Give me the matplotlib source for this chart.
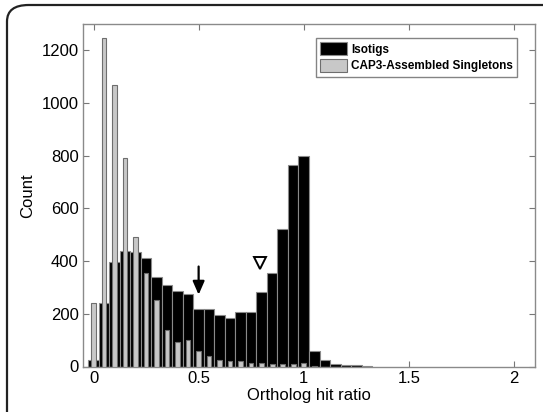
import matplotlib
matplotlib.use('Agg')
import matplotlib.pyplot as plt
import numpy as np
from matplotlib.patches import FancyBboxPatch

plt.rcParams['font.family'] = ['Liberation Sans', 'DejaVu Sans']

# bin centres (ortholog hit ratio), 0.05 wide
bin_centers = np.round(np.arange(0, 1.35, 0.05), 2)

isotigs = [25, 240, 398, 440, 436, 412, 341, 308, 287, 275, 217, 219, 196, 185,
           205, 208, 282, 355, 522, 765, 798, 58, 24, 10, 6, 4, 2]
singletons = [242, 1247, 1067, 793, 492, 355, 252, 139, 92, 100, 58, 40, 25, 21,
              21, 15, 12, 8, 8, 8, 12, 2, 0, 0, 0, 0, 0]

arrow_x, arrow_top, arrow_tip = 0.5, 390, 262
tri_x, tri_y = 0.79, 393

fig = plt.figure(figsize=(5.43, 4.12), dpi=100)
ax = fig.add_axes([83 / 543, 1 - 366.5 / 412, 452 / 543, 342.5 / 412])

# outer rounded frame (cropped on right and bottom)
frame = FancyBboxPatch((7 / 543, -0.1), 1.2, 1 - 5 / 412 + 0.1,
                       boxstyle='round,pad=0,rounding_size=0.04',
                       transform=fig.transFigure, fill=False,
                       edgecolor='#222222', linewidth=1.6, clip_on=False)
fig.patches.append(frame)

ax.bar(bin_centers, isotigs, width=0.05, color='black', edgecolor='#8a8a8a',
       linewidth=0.8, label='Isotigs', zorder=2)
ax.bar(bin_centers, singletons, width=0.022, color='#c8c8c8', edgecolor='#6e6e6e',
       linewidth=0.8, label='CAP3-Assembled Singletons', zorder=3)

ax.annotate('', xy=(arrow_x, arrow_tip), xytext=(arrow_x, arrow_top),
            arrowprops=dict(arrowstyle='-|>,head_length=0.8,head_width=0.35',
                            color='black', lw=1.6), zorder=5)
ax.plot([tri_x], [tri_y], marker='v', markersize=8, markerfacecolor='white',
        markeredgecolor='black', markeredgewidth=1.4, linestyle='none', zorder=5)

ax.set_xlim(-0.05, 2.1)
ax.set_ylim(0, 1300)
ax.set_xticks([0, 0.5, 1, 1.5, 2])
ax.set_xticklabels(['0', '0.5', '1', '1.5', '2'])
ax.set_yticks([0, 200, 400, 600, 800, 1000, 1200])
ax.tick_params(direction='in', length=4, color='#777777', labelsize=12,
               top=True, right=True, pad=3)
for s in ax.spines.values():
    s.set_color('#8a8a8a')
    s.set_linewidth(1.0)

ax.set_xlabel('Ortholog hit ratio', fontsize=12, labelpad=2)
ax.set_ylabel('Count', fontsize=12, labelpad=5)

leg = ax.legend(loc='upper right', bbox_to_anchor=(517 / 543, 1 - 38 / 412),
                bbox_transform=fig.transFigure, frameon=True, fancybox=False,
                prop={'weight': 'bold', 'size': 8.5}, handlelength=2.3,
                handleheight=1.3, handletextpad=0.3, borderpad=0.35,
                labelspacing=0.3, borderaxespad=0)
leg.get_frame().set_edgecolor('#666666')
leg.get_frame().set_linewidth(1.0)

fig.savefig('out.png', dpi=100)
